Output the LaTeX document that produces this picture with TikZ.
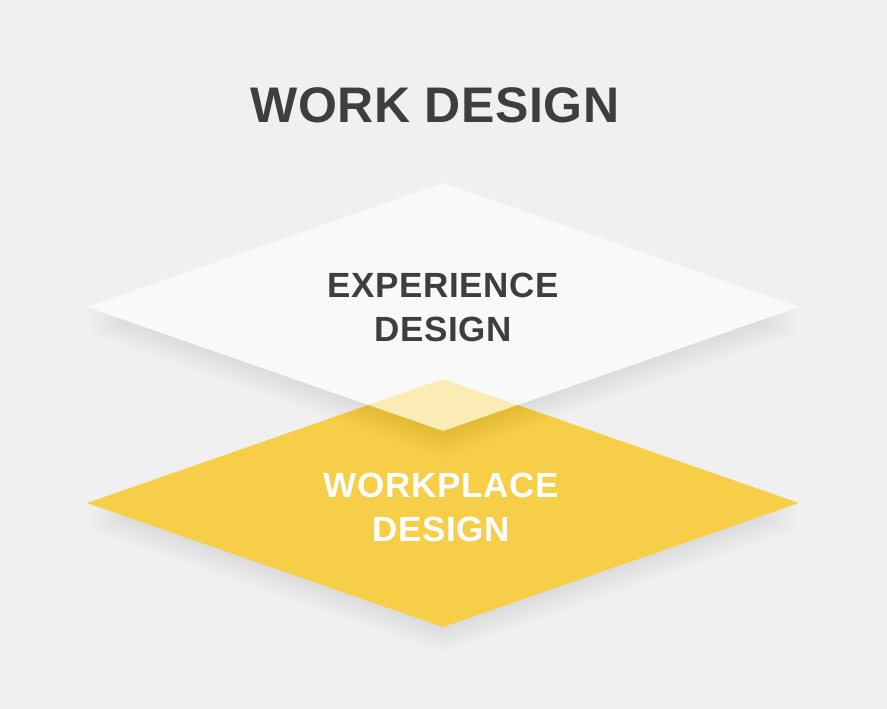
\documentclass[tikz,border=0pt]{standalone}
\usepackage{fontspec}
\setmainfont{Liberation Sans}
\definecolor{sfondo}{HTML}{F0F0F0}
\definecolor{giallo}{RGB}{246,206,72}
\definecolor{grigioscuro}{HTML}{3F3D3D}
\begin{document}
\begin{tikzpicture}[x=1pt,y=-1pt]

% Parametri
\def\halfw{356} % mezza larghezza dei rombi
\def\halfh{124} % mezza altezza dei rombi
\def\numombre{20}

% Sfondo
\fill[sfondo] (0,0) rectangle (887,709);
\useasboundingbox (0,0) rectangle (887,709);

% Ombra del rombo giallo
\foreach \k in {1,...,\numombre} {
    \fill[black, opacity=0.0055]
        (443-\halfw, 503+\k*1.4) -- (443, 503-\halfh+\k*1.4) -- (443+\halfw, 503+\k*1.4) -- (443, 503+\halfh+\k*1.4) -- cycle;
}

% Rombo giallo
\fill[giallo] (443-\halfw,503) -- (443,503-\halfh) -- (443+\halfw,503) -- (443,503+\halfh) -- cycle;

% Ombra del rombo bianco, solo fuori dal rombo
\begin{scope}
    \clip (0,0) -- (887,0) -- (887,709) -- (0,709) -- cycle
          (443,307-\halfh) -- (443-\halfw,307) -- (443,307+\halfh) -- (443+\halfw,307) -- cycle;
    \foreach \k in {1,...,\numombre} {
        \fill[black, opacity=0.0055]
            (443-\halfw, 307+\k*1.4) -- (443, 307-\halfh+\k*1.4) -- (443+\halfw, 307+\k*1.4) -- (443, 307+\halfh+\k*1.4) -- cycle;
    }
\end{scope}

% Rombo bianco trasparente
\fill[white, opacity=0.6] (443-\halfw,307) -- (443,307-\halfh) -- (443+\halfw,307) -- (443,307+\halfh) -- cycle;

% Scritte
\node (titolo) at (435,105) [text=grigioscuro, font=\addfontfeature{LetterSpace=1}\fontsize{50}{60}\selectfont\bfseries, inner sep=0] {WORK DESIGN};
\node (esperienza) at (443,307) [text=grigioscuro, align=center, font=\addfontfeature{LetterSpace=2}\fontsize{35}{44}\selectfont\bfseries, inner sep=0] {EXPERIENCE\\DESIGN};
\node (luogo) at (441,507) [text=white, align=center, font=\addfontfeature{LetterSpace=2}\fontsize{35}{44}\selectfont\bfseries, inner sep=0] {WORKPLACE\\DESIGN};

\end{tikzpicture}
\end{document}
